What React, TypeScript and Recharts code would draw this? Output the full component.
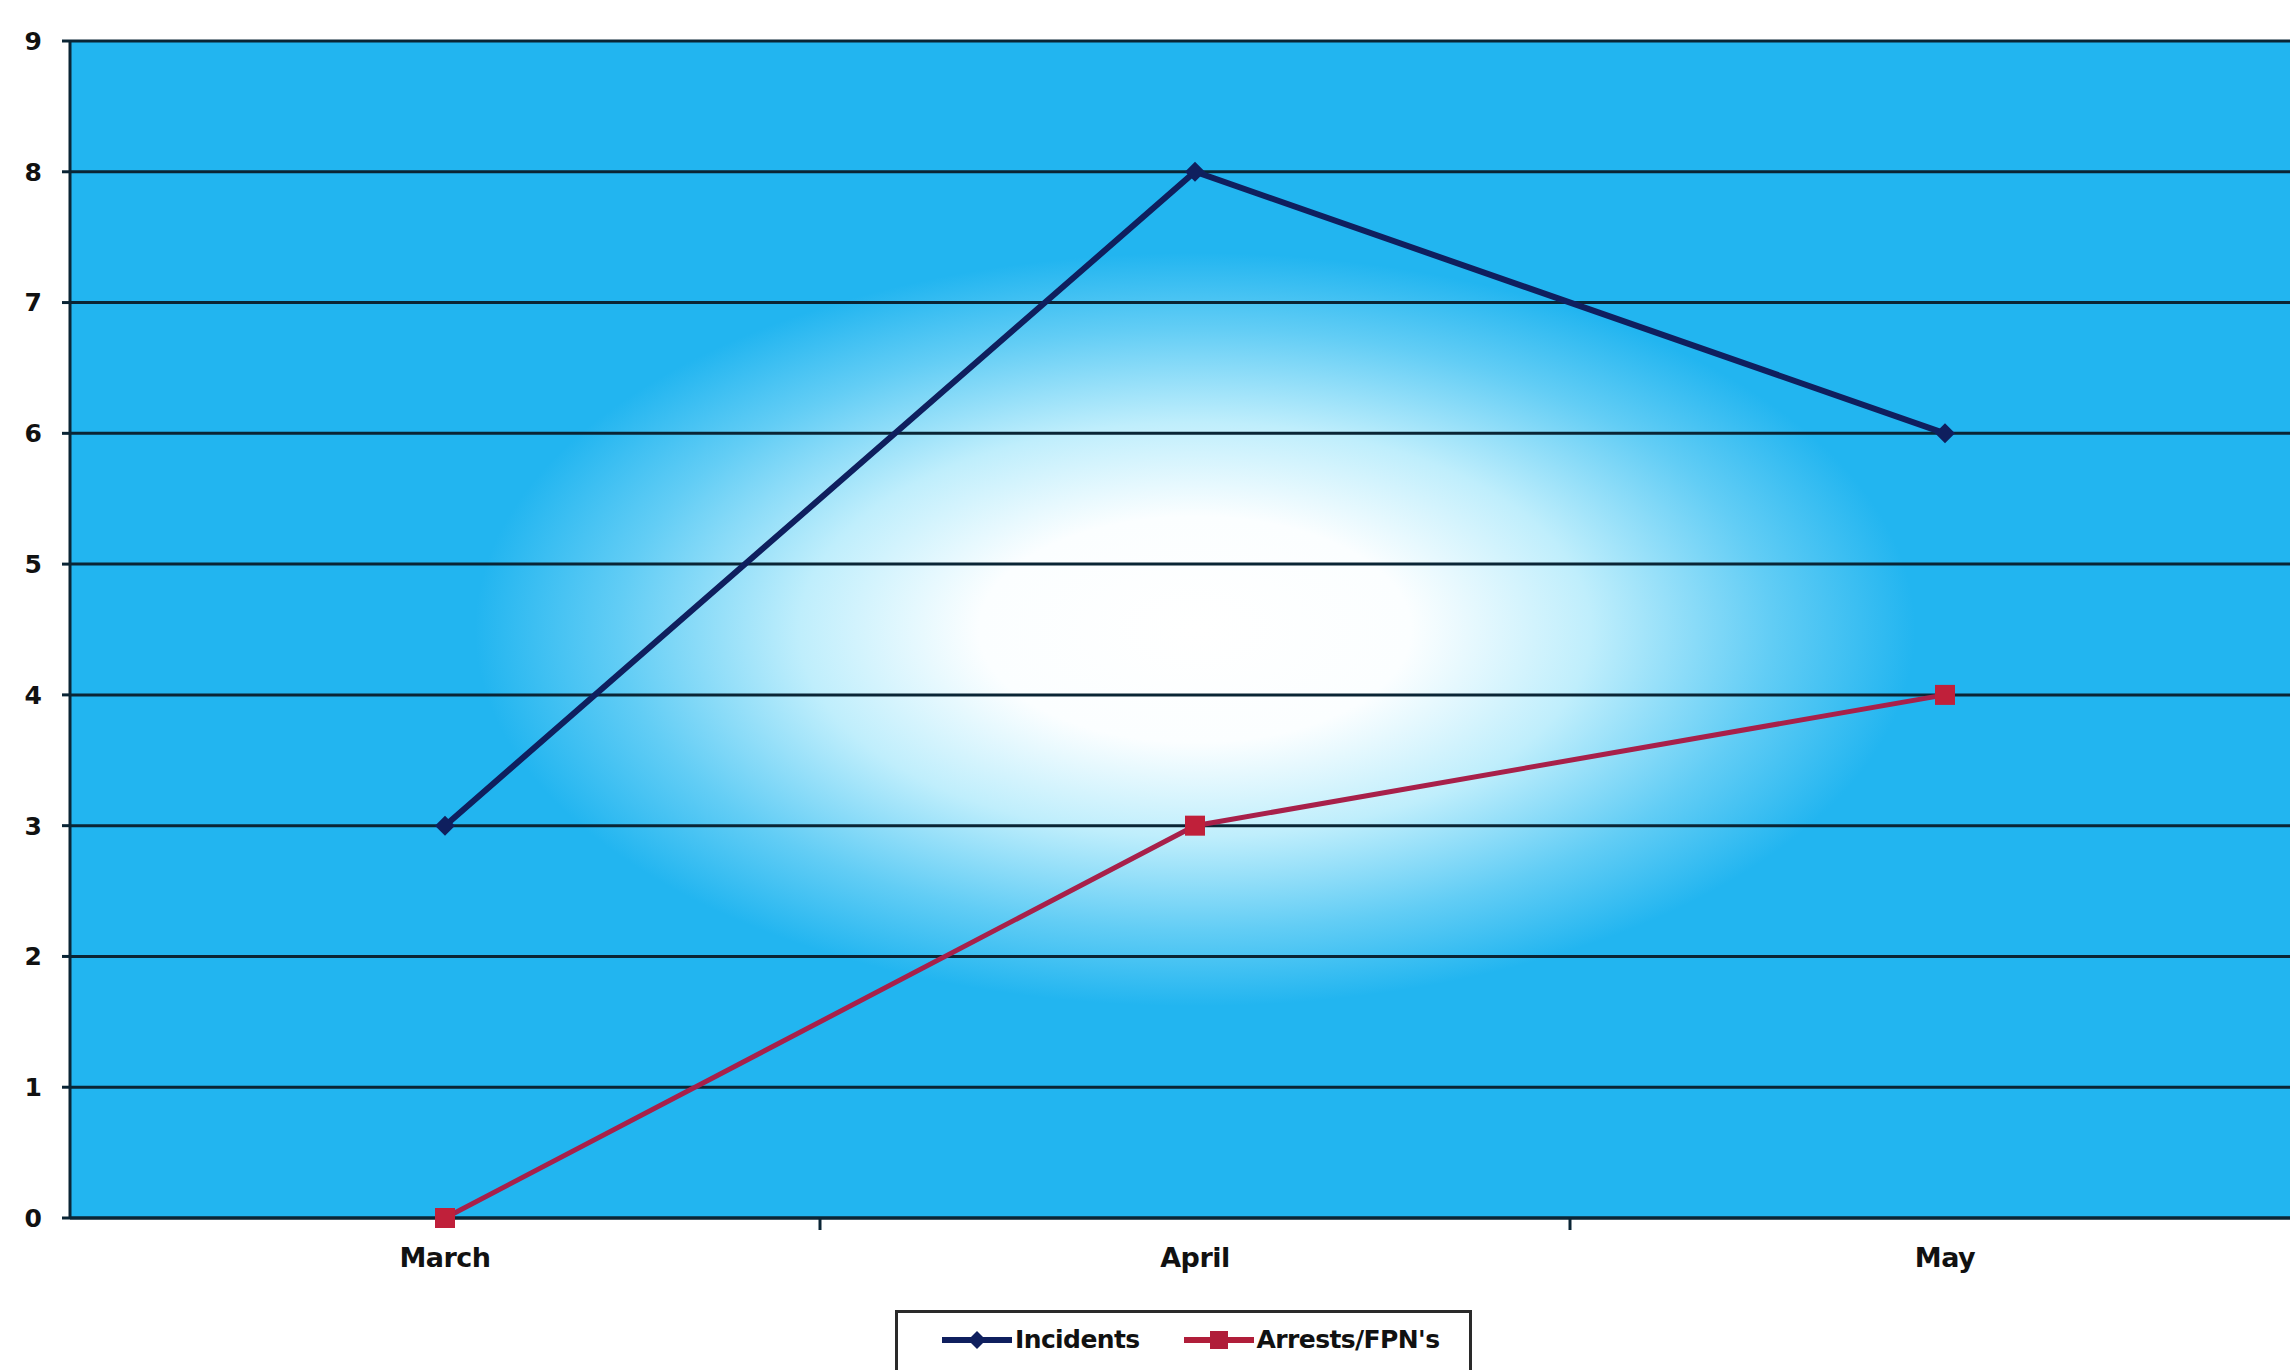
import {
  CartesianGrid,
  Legend,
  Line,
  LineChart,
  XAxis,
  YAxis,
} from "recharts";

const months = ["March", "April", "May"];
const incidents = [3, 8, 6];
const arrests = [0, 3, 4];
const yTicks = [0, 1, 2, 3, 4, 5, 6, 7, 8, 9];

const data = months.map((month, i) => ({
  month,
  incidents: incidents[i],
  arrests: arrests[i],
}));

const FONT = '"DejaVu Sans", "Liberation Sans", Arial, sans-serif';
const NAVY = "#0f1f5e";
const RED = "#c0203a";
const GRID = "#0a2535";

const Diamond = (props: any) => {
  const { cx, cy, index } = props;
  if (cx == null || cy == null) return null;
  const r = 10;
  return (
    <path
      key={`d-${index}`}
      d={`M${cx},${cy - r}L${cx + r},${cy}L${cx},${cy + r}L${cx - r},${cy}Z`}
      fill={NAVY}
    />
  );
};

const Square = (props: any) => {
  const { cx, cy, index } = props;
  if (cx == null || cy == null) return null;
  const s = 10;
  return (
    <rect
      key={`s-${index}`}
      x={cx - s}
      y={cy - s}
      width={s * 2}
      height={s * 2}
      fill={RED}
    />
  );
};

// category label plus a tick mark on the boundary between bands (Excel style)
const MonthTick = (props: any) => {
  const { x, y, payload, index } = props;
  const half = payload?.offset ?? 0;
  const axisY = y - 30;
  return (
    <g>
      {index < months.length - 1 && (
        <line
          x1={x + half}
          x2={x + half}
          y1={axisY}
          y2={axisY + 12}
          stroke={GRID}
          strokeWidth={3}
        />
      )}
      <text
        x={x}
        y={y}
        dy="0.71em"
        textAnchor="middle"
        fill="#111"
        fontSize={27}
        fontWeight="bold"
        fontFamily={FONT}
        letterSpacing={-0.5}
      >
        {payload.value}
      </text>
    </g>
  );
};

const LegendBox = () => {
  const items = [
    { name: "Incidents", color: NAVY, shape: "diamond" },
    { name: "Arrests/FPN's", color: "#b01e3a", shape: "square" },
  ];
  return (
    <div
      style={{
        border: "3px solid #2a2a2a",
        background: "#fff",
        height: 80,
        boxSizing: "border-box",
        padding: "12px 30px 0 42px",
        display: "flex",
        alignItems: "flex-start",
        gap: 42,
        fontFamily: FONT,
        fontWeight: "bold",
        fontSize: 25,
        color: "#111",
        letterSpacing: -0.6,
      }}
    >
      {items.map((it) => (
        <div key={it.name} style={{ display: "flex", alignItems: "center" }}>
          <svg width={74} height={24} style={{ marginRight: 1 }}>
            <line x1={2} y1={12} x2={72} y2={12} stroke={it.color} strokeWidth={6} />
            {it.shape === "diamond" ? (
              <path d="M37,3L46,12L37,21L28,12Z" fill={it.color} />
            ) : (
              <rect x={28} y={3} width={18} height={18} fill={it.color} />
            )}
          </svg>
          <span>{it.name}</span>
        </div>
      ))}
    </div>
  );
};

export default function App() {
  return (
    <div
      style={{
        position: "absolute",
        left: 0,
        top: 0,
        width: 2290,
        height: 1370,
        overflow: "hidden",
        background: "#fff",
      }}
    >
      <LineChart
        width={2320}
        height={1370}
        data={data}
        margin={{ top: 41, right: 0, left: 0, bottom: 0 }}
      >
        <defs>
          <radialGradient id="glow" cx="0.5" cy="0.5" r="0.32">
            <stop offset="0" stopColor="#ffffff" />
            <stop offset="0.3" stopColor="#fbfeff" />
            <stop offset="0.55" stopColor="#bfeefc" />
            <stop offset="0.8" stopColor="#62cdf5" />
            <stop offset="1" stopColor="#22b5f0" />
          </radialGradient>
        </defs>
        <CartesianGrid
          vertical={false}
          fill="url(#glow)"
          fillOpacity={1}
          stroke={GRID}
          strokeWidth={3}
        />
        <XAxis
          dataKey="month"
          scale="band"
          axisLine={{ stroke: GRID, strokeWidth: 3 }}
          tickLine={false}
          tickSize={10}
          tickMargin={20}
          height={152}
          tick={<MonthTick />}
        />
        <YAxis
          domain={[0, 9]}
          ticks={yTicks}
          interval={0}
          width={70}
          axisLine={{ stroke: GRID, strokeWidth: 3 }}
          tickLine={{ stroke: GRID, strokeWidth: 3 }}
          tickSize={8}
          tickMargin={20}
          tick={{ fill: "#111", fontSize: 25, fontWeight: "bold", fontFamily: FONT }}
        />
        <Legend
          layout="horizontal"
          verticalAlign="middle"
          align="center"
          content={<LegendBox />}
          wrapperStyle={{ top: 1310, left: 895, width: "auto" }}
        />
        <Line
          dataKey="incidents"
          name="Incidents"
          type="linear"
          stroke={NAVY}
          strokeWidth={6}
          dot={<Diamond />}
          activeDot={false}
          isAnimationActive={false}
        />
        <Line
          dataKey="arrests"
          name="Arrests/FPN's"
          type="linear"
          stroke="#a8204a"
          strokeWidth={5}
          dot={<Square />}
          activeDot={false}
          isAnimationActive={false}
        />
      </LineChart>
    </div>
  );
}
